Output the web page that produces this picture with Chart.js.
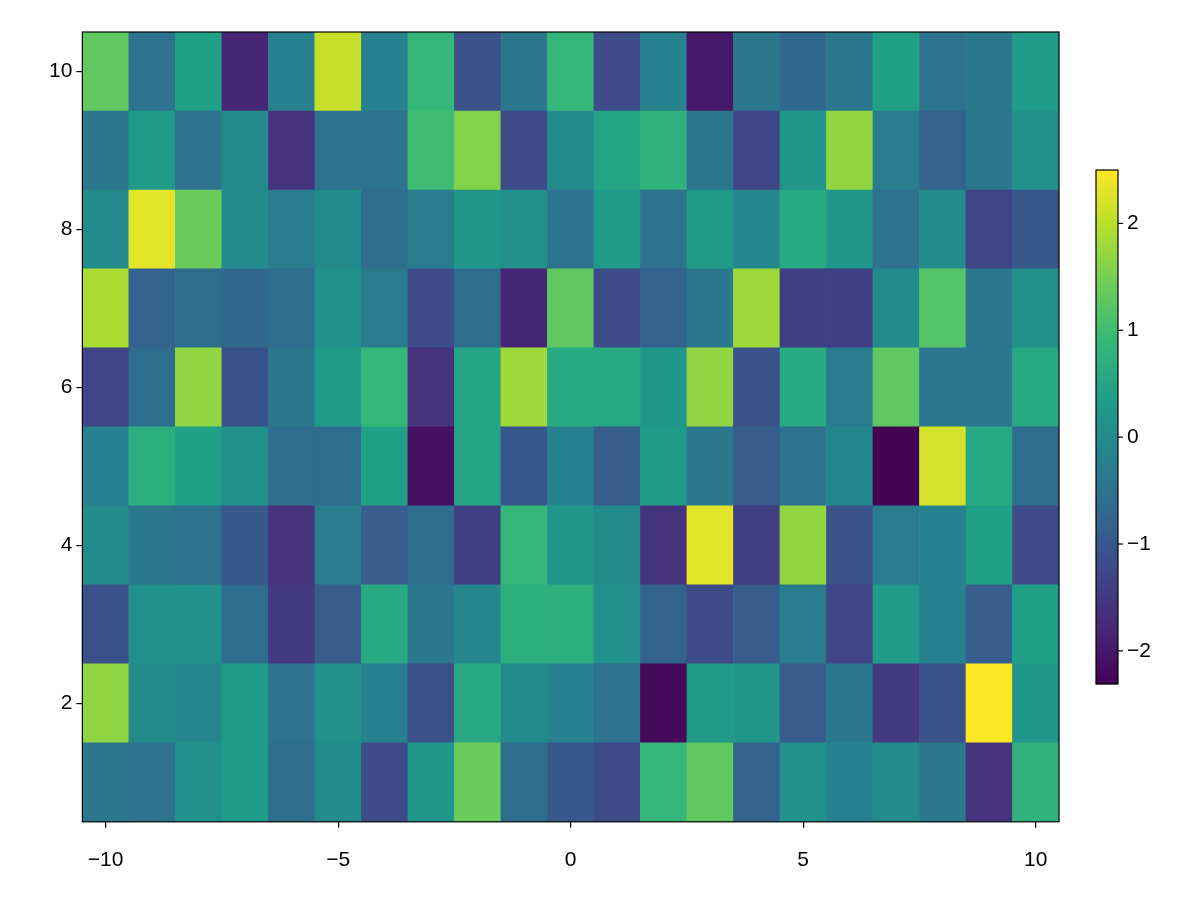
<!DOCTYPE html>
<html><head><meta charset="utf-8">
<script src="https://cdn.jsdelivr.net/npm/chart.js@4"></script>
<style>body{margin:0;background:#fff}#w{width:1200px;height:900px}</style>
</head><body><div id="w"><canvas id="c"></canvas></div>
<script>
const xs = [-10,-9,-8,-7,-6,-5,-4,-3,-2,-1,0,1,2,3,4,5,6,7,8,9,10];
const ys = [1,2,3,4,5,6,7,8,9,10];
const row1  = [-0.4,-0.5,0.1,0.3,-0.6,0,-1.2,0.2,1.4,-0.6,-1.0,-1.2,0.9,1.3,-0.8,0.1,-0.2,0,-0.4,-1.6,0.8];
const row2  = [1.7,0,-0.1,0.3,-0.5,0.1,-0.2,-1.1,0.6,0,-0.2,-0.5,-2.2,0.3,0.2,-0.9,-0.4,-1.5,-1.1,2.5,0.2];
const row3  = [-1.1,0.1,0.1,-0.6,-1.5,-0.9,0.6,-0.4,-0.1,0.7,0.7,0.1,-0.8,-1.2,-0.9,-0.3,-1.3,0.3,-0.2,-0.9,0.4];
const row4  = [0,-0.4,-0.5,-1.0,-1.6,-0.3,-0.9,-0.6,-1.4,0.9,0.2,0,-1.6,2.3,-1.4,1.7,-1.1,-0.3,-0.2,0.4,-1.2];
const row5  = [-0.2,0.7,0.4,0.1,-0.6,-0.6,0.4,-2.1,0.5,-1.0,-0.2,-0.9,0.3,-0.4,-0.9,-0.5,-0.1,-2.3,2.2,0.6,-0.6];
const row6  = [-1.3,-0.6,1.7,-1.1,-0.4,0.3,0.9,-1.6,0.5,1.8,0.6,0.6,0.2,1.7,-1.1,0.6,-0.3,1.3,-0.4,-0.4,0.6];
const row7  = [1.9,-0.8,-0.6,-0.7,-0.6,0.1,-0.3,-1.2,-0.6,-1.8,1.3,-1.2,-0.8,-0.4,1.8,-1.4,-1.4,0,1.2,-0.4,0.1];
const row8  = [0,2.3,1.4,0,-0.3,0,-0.6,-0.3,0.2,0.1,-0.5,0.3,-0.5,0.3,-0.1,0.6,0.2,-0.5,0,-1.3,-1.0];
const row9  = [-0.4,0.3,-0.5,0,-1.6,-0.5,-0.5,1.0,1.6,-1.2,0,0.5,0.8,-0.4,-1.3,0.2,1.7,-0.3,-0.8,-0.4,0.1];
const row10 = [1.3,-0.5,0.4,-1.8,-0.2,2.1,-0.2,0.9,-1.1,-0.4,0.9,-1.2,-0.2,-2.0,-0.4,-0.7,-0.4,0.4,-0.5,-0.4,0.3];
const rows = [row1,row2,row3,row4,row5,row6,row7,row8,row9,row10];
const xTicks = [-10,-5,0,5,10];
const yTicks = [2,4,6,8,10];
const cbTicks = [-2,-1,0,1,2];
const vmin = -2.31, vmax = 2.5;

const stops = [[68,1,84],[72,40,120],[62,73,137],[49,104,142],[38,130,142],[31,158,137],[53,183,121],[109,205,89],[180,222,44],[253,231,37]];
function viridis(t){t=Math.max(0,Math.min(1,t));const f=t*(stops.length-1);const i=Math.min(stops.length-2,Math.floor(f));const u=f-i;
 const c=stops[i].map((v,k)=>Math.round(v+(stops[i+1][k]-v)*u));return `rgb(${c[0]},${c[1]},${c[2]})`;}
const col = v => viridis((v-vmin)/(vmax-vmin));
const fmt = v => String(v).replace('-','\u2212');
const FONT = '"Liberation Sans", Arial, sans-serif';

const datasets = rows.map((r,j)=>({
  data: r.map((v,i)=>({x:xs[i], y:[ys[j]-0.5, ys[j]+0.5]})),
  backgroundColor: r.map(col), borderWidth:0, grouped:false,
  barPercentage:1, categoryPercentage:1
}));

const frame = {id:'frame', afterDraw(ch){const a=ch.chartArea,c=ch.ctx;c.save();
  c.strokeStyle='#000';c.lineWidth=1.2;c.strokeRect(a.left,a.top,a.right-a.left,a.bottom-a.top);
  const x0=1096,w=22,top=170,bot=684;
  for(let p=top;p<bot;p++){c.fillStyle=viridis(1-(p-top)/(bot-top));c.fillRect(x0,p,w,1.2);}
  c.strokeRect(x0,top,w,bot-top);
  c.fillStyle='#000';c.font='21px '+FONT;c.textBaseline='middle';c.textAlign='left';
  cbTicks.forEach(t=>{const y=bot-(t-vmin)/(vmax-vmin)*(bot-top);
    c.beginPath();c.moveTo(x0+w,y);c.lineTo(x0+w+5,y);c.stroke();c.fillText(fmt(t),x0+w+9,y);});
  c.restore();}};

const gridOpt = {drawOnChartArea:false,drawTicks:true,tickLength:6,color:'#000',lineWidth:1.2,offset:false};
new Chart(document.getElementById('c'),{
  type:'bar', data:{datasets},
  options:{responsive:true,maintainAspectRatio:false,animation:false,
    layout:{padding:{top:32,right:141,left:45,bottom:7}},
    plugins:{legend:{display:false},tooltip:{enabled:false}},
    scales:{
      x:{type:'linear',min:-10.5,max:10.5,offset:false,grid:gridOpt,border:{display:false},
        afterBuildTicks:s=>{s.ticks=xTicks.map(v=>({value:v}));},
        ticks:{color:'#000',padding:20,font:{size:21,family:FONT},callback:fmt,maxRotation:0}},
      y:{type:'linear',min:0.5,max:10.5,grid:gridOpt,border:{display:false},
        afterBuildTicks:s=>{s.ticks=yTicks.map(v=>({value:v}));},
        ticks:{color:'#000',padding:4,font:{size:21,family:FONT},callback:fmt}}
    }},
  plugins:[frame]
});
</script></body></html>
